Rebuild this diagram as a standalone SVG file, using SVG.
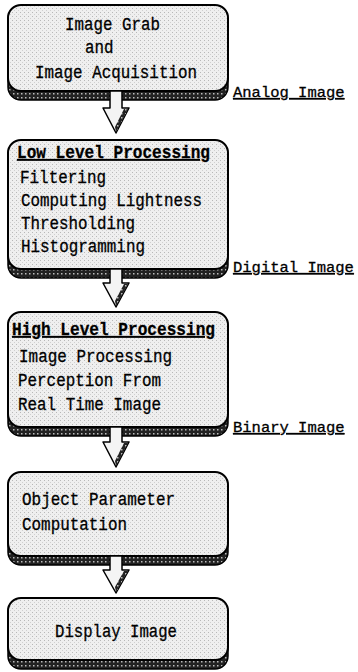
<svg xmlns="http://www.w3.org/2000/svg" width="358" height="672" viewBox="0 0 358 672">
<defs>
<pattern id="stip" width="4" height="4" patternUnits="userSpaceOnUse">
<rect width="4" height="4" fill="#efefef"/>
<rect x="0" y="0" width="1" height="1" fill="#b8b8b8"/>
<rect x="2" y="2" width="1" height="1" fill="#d0d0d0"/>
</pattern>
<pattern id="band" width="4" height="4" patternUnits="userSpaceOnUse">
<rect width="4" height="4" fill="#222"/>
<rect x="1" y="1" width="1.5" height="1.5" fill="#bbb"/>
</pattern>
</defs>
<style>
.shadow{fill:url(#band);stroke:#000;stroke-width:1.5}
.body{fill:url(#stip);stroke:#000;stroke-width:2}
.t{font-family:"Liberation Mono","DejaVu Sans Mono",monospace;font-size:18px;fill:#000;stroke:#000;stroke-width:0.3}
.h{font-weight:bold;text-decoration:underline}
.lbl{font-family:"Liberation Mono","DejaVu Sans Mono",monospace;font-size:15.5px;fill:#000;stroke:#000;stroke-width:0.3;text-decoration:underline}
.arrow{fill:#f4f4f4;stroke:#000;stroke-width:1.5;stroke-linejoin:round}
.aside{fill:url(#band);stroke:none}
</style>

<g id="n1">
<rect class="shadow" x="8" y="6" width="220" height="94" rx="13"/>
<rect class="body" x="8" y="5" width="220" height="86" rx="13"/>
<text class="t" x="65" y="30" textLength="95" lengthAdjust="spacingAndGlyphs">Image Grab</text>
<text class="t" x="85" y="53" textLength="28.5" lengthAdjust="spacingAndGlyphs">and</text>
<text class="t" x="35" y="78" textLength="162" lengthAdjust="spacingAndGlyphs">Image Acquisition</text>
</g>

<g id="n2">
<rect class="shadow" x="8" y="141" width="220" height="137" rx="13"/>
<rect class="body" x="8" y="140" width="220" height="129" rx="13"/>
<text class="t h" x="17" y="158" textLength="193" lengthAdjust="spacingAndGlyphs">Low Level Processing</text>
<text class="t" x="20" y="183" textLength="86" lengthAdjust="spacingAndGlyphs">Filtering</text>
<text class="t" x="21" y="206" textLength="181" lengthAdjust="spacingAndGlyphs">Computing Lightness</text>
<text class="t" x="21" y="229" textLength="114" lengthAdjust="spacingAndGlyphs">Thresholding</text>
<text class="t" x="21" y="252" textLength="124" lengthAdjust="spacingAndGlyphs">Histogramming</text>
</g>

<g id="n3">
<rect class="shadow" x="8" y="313" width="220" height="123" rx="13"/>
<rect class="body" x="8" y="312" width="220" height="115" rx="13"/>
<text class="t h" x="12" y="335" textLength="203" lengthAdjust="spacingAndGlyphs">High Level Processing</text>
<text class="t" x="19" y="362" textLength="153" lengthAdjust="spacingAndGlyphs">Image Processing</text>
<text class="t" x="18" y="386" textLength="143" lengthAdjust="spacingAndGlyphs">Perception From</text>
<text class="t" x="18" y="410" textLength="143" lengthAdjust="spacingAndGlyphs">Real Time Image</text>
</g>

<g id="n4">
<rect class="shadow" x="8" y="473" width="220" height="92" rx="13"/>
<rect class="body" x="8" y="472" width="220" height="84" rx="13"/>
<text class="t" x="22" y="505" textLength="153" lengthAdjust="spacingAndGlyphs">Object Parameter</text>
<text class="t" x="22" y="530" textLength="105" lengthAdjust="spacingAndGlyphs">Computation</text>
</g>

<g id="n5">
<rect class="shadow" x="8" y="599" width="220" height="70" rx="13"/>
<rect class="body" x="8" y="598" width="220" height="62" rx="13"/>
<text class="t" x="55" y="637" textLength="122" lengthAdjust="spacingAndGlyphs">Display Image</text>
</g>

<g id="labels">
<text class="lbl" x="233" y="97">Analog Image</text>
<text class="lbl" x="233" y="272">Digital Image</text>
<text class="lbl" x="233" y="432">Binary Image</text>
</g>

<g id="connectors">
<polygon class="arrow" points="110,91 110,108 103,108 116,133 129,108 122,108 122,91"/>
<polygon class="aside" points="124,109 128,109 116,132 115,127"/>
<polygon class="arrow" points="110,269 110,283 103,283 116,307 129,283 122,283 122,269"/>
<polygon class="aside" points="124,284 128,284 116,306 115,301"/>
<polygon class="arrow" points="110,427 110,442 103,442 116,467 129,442 122,442 122,427"/>
<polygon class="aside" points="124,443 128,443 116,466 115,461"/>
<polygon class="arrow" points="110,556 110,570 103,570 116,593 129,570 122,570 122,556"/>
<polygon class="aside" points="124,571 128,571 116,592 115,587"/>
</g>
</svg>
